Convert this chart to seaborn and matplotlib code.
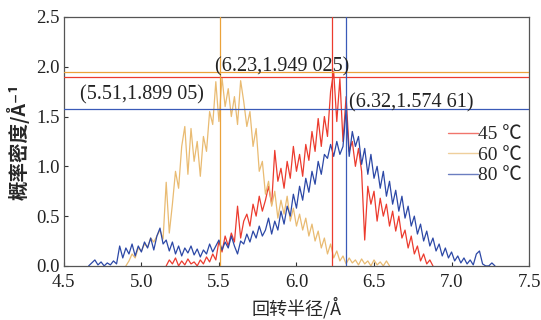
import numpy as np
import pandas as pd
import matplotlib
matplotlib.use("Agg")
import matplotlib.pyplot as plt
import seaborn as sns

# ---------------- data ----------------
step = 0.02
x0_45, x0_60, x0_80 = 5.16, 4.90, 4.66

y45 = [0.00, 0.06, 0.02, 0.08, 0.00, 0.05, 0.01, 0.07, 0.02, 0.04,
       0.00, 0.06, 0.02, 0.09, 0.04, 0.12, 0.06, 0.25, 0.14, 0.30,
       0.20, 0.33, 0.24, 0.60, 0.28, 0.45, 0.52, 0.40, 0.62, 0.50,
       0.70, 0.55, 0.66, 0.80, 0.62, 1.16, 0.85, 0.98, 0.78, 1.05,
       0.88, 1.20, 0.95, 1.12, 0.90, 1.22, 1.06, 1.35, 1.15, 1.48,
       1.20, 1.50, 1.30, 1.75, 1.95, 1.45, 1.88, 1.25, 1.70, 1.15,
       1.25, 1.00, 1.18, 0.95, 0.26, 0.80, 0.62, 0.75, 0.45, 0.68,
       0.50, 0.62, 0.40, 0.55, 0.35, 0.50, 0.28, 0.36, 0.18, 0.30,
       0.12, 0.20, 0.05, 0.12, 0.02, 0.06, 0.00]

y60 = [0.00, 0.05, 0.12, 0.08, 0.18, 0.15, 0.22, 0.19, 0.28, 0.24,
       0.30, 0.36, 0.27, 0.84, 0.33, 0.62, 0.95, 0.78, 1.20, 1.40,
       0.92, 1.38, 1.05, 1.25, 0.90, 1.30, 1.15, 1.55, 1.42, 1.85,
       1.45, 1.89, 1.60, 1.78, 1.50, 1.70, 1.42, 1.86, 1.65, 1.40,
       1.55, 1.20, 1.38, 0.95, 1.05, 0.72, 0.85, 0.60, 0.75, 0.48,
       0.66, 0.52, 0.70, 0.45, 0.58, 0.40, 0.52, 0.36, 0.48, 0.30,
       0.42, 0.25, 0.35, 0.18, 0.28, 0.12, 0.22, 0.08, 0.15, 0.05,
       0.10, 0.02, 0.08, 0.03, 0.06, 0.01, 0.07, 0.02, 0.05, 0.00,
       0.06, 0.01, 0.04, 0.00, 0.05, 0.00]

y80 = [0.00, 0.03, 0.06, 0.01, 0.04, 0.00, 0.03, 0.01, 0.05, 0.02,
       0.20, 0.08, 0.18, 0.12, 0.22, 0.10, 0.20, 0.14, 0.24, 0.18,
       0.28, 0.16, 0.30, 0.38, 0.22, 0.26, 0.15, 0.24, 0.12, 0.20,
       0.10, 0.18, 0.13, 0.20, 0.11, 0.17, 0.09, 0.16, 0.12, 0.22,
       0.14, 0.20, 0.26, 0.16, 0.24, 0.18, 0.30, 0.20, 0.12, 0.25,
       0.22, 0.32, 0.24, 0.35, 0.28, 0.40, 0.30, 0.36, 0.48, 0.32,
       0.45, 0.36, 0.55, 0.42, 0.60, 0.50, 0.72, 0.58, 0.80, 0.66,
       0.88, 0.74, 0.95, 0.82, 1.05, 0.92, 1.12, 1.08, 1.22, 1.10,
       1.25, 1.12, 1.20, 1.57, 1.10, 1.35, 1.20, 1.30, 1.02, 1.18,
       0.92, 1.12, 0.88, 1.00, 0.78, 0.95, 0.70, 0.85, 0.62, 0.76,
       0.55, 0.70, 0.48, 0.60, 0.40, 0.50, 0.32, 0.42, 0.25, 0.35,
       0.20, 0.28, 0.15, 0.22, 0.10, 0.18, 0.08, 0.14, 0.05, 0.10,
       0.03, 0.08, 0.02, 0.06, 0.01, 0.12, 0.15, 0.02, 0.00, 0.00,
       0.03, 0.00]

labels = ["45 ℃", "60 ℃", "80 ℃"]

# reference lines: (x, y) of the marked maxima
vx = [6.23, 5.51, 6.32]
hy = [1.899, 1.949, 1.57461]
ann_text = ["(5.51,1.899 05)", "(6.23,1.949 025)", "(6.32,1.574 61)"]
ann_pos = [(4.605, 1.72), (5.475, 1.995), (6.34, 1.64)]

xticks = [4.5, 5.0, 5.5, 6.0, 6.5, 7.0, 7.5]
yticks = [0.0, 0.5, 1.0, 1.5, 2.0, 2.5]

# ---------------- frame ----------------
frames = []
for lab, x0, ys in zip(labels, [x0_45, x0_60, x0_80], [y45, y60, y80]):
    xs = x0 + step * np.arange(len(ys))
    frames.append(pd.DataFrame({"r": xs, "p": ys, "T": lab}))
df = pd.concat(frames, ignore_index=True)

sns.set_style("ticks")
plt.rcParams["font.family"] = ["Liberation Serif", "Noto Sans CJK SC", "DejaVu Sans"]

line_cols = {"45 ℃": "#ec3b2e", "60 ℃": "#e9bb72", "80 ℃": "#2c48a6"}
ref_cols = ["#ec3b2e", "#eba23a", "#3a5ab8"]

fig = plt.figure(figsize=(5.41, 3.20), dpi=100)
ax = fig.add_axes([0.118, 0.169, 0.860, 0.778])

sns.lineplot(data=df, x="r", y="p", hue="T", palette=line_cols,
             hue_order=labels, linewidth=0.9, ax=ax, legend=True,
             estimator=None, sort=False)

for xv, hv, c in zip(vx, hy, ref_cols):
    ax.axvline(xv, color=c, lw=0.9, zorder=3)
    ax.axhline(hv, color=c, lw=0.9, zorder=3)

for t, (px, py) in zip(ann_text, ann_pos):
    ax.text(px, py, t, fontsize=14.5, va="center", ha="left",
            family="Liberation Serif", color="#222222")

ax.set_xlim(4.5, 7.5)
ax.set_ylim(0, 2.5)
ax.set_xticks(xticks)
ax.set_yticks(yticks)
ax.set_xticklabels([f"{v:.1f}" for v in xticks], fontsize=13.5)
ax.set_yticklabels([f"{v:.1f}" for v in yticks], fontsize=13.5)
ax.tick_params(direction="in", length=3, width=0.8, colors="#333333",
               labelcolor="#222222")
ax.tick_params(axis="x", pad=6)
ax.tick_params(axis="y", pad=3)
for s in ax.spines.values():
    s.set_color("#555555")
    s.set_linewidth(0.9)

ax.set_xlabel("回转半径/Å", fontsize=13, family=["Noto Sans CJK SC", "DejaVu Sans"],
              labelpad=4)
ax.set_ylabel("概率密度/Å⁻¹", fontsize=14, family=["Noto Sans CJK SC", "DejaVu Sans"],
              fontweight="bold", labelpad=5)

leg = ax.legend(loc="center left", bbox_to_anchor=(0.81, 0.445), frameon=False,
                fontsize=14, handlelength=1.5, handletextpad=0.0,
                labelspacing=0.15, borderaxespad=0)
for h in leg.get_lines():
    h.set_alpha(0.7)
    h.set_linewidth(1.0)

fig.savefig("out.png", dpi=100)
